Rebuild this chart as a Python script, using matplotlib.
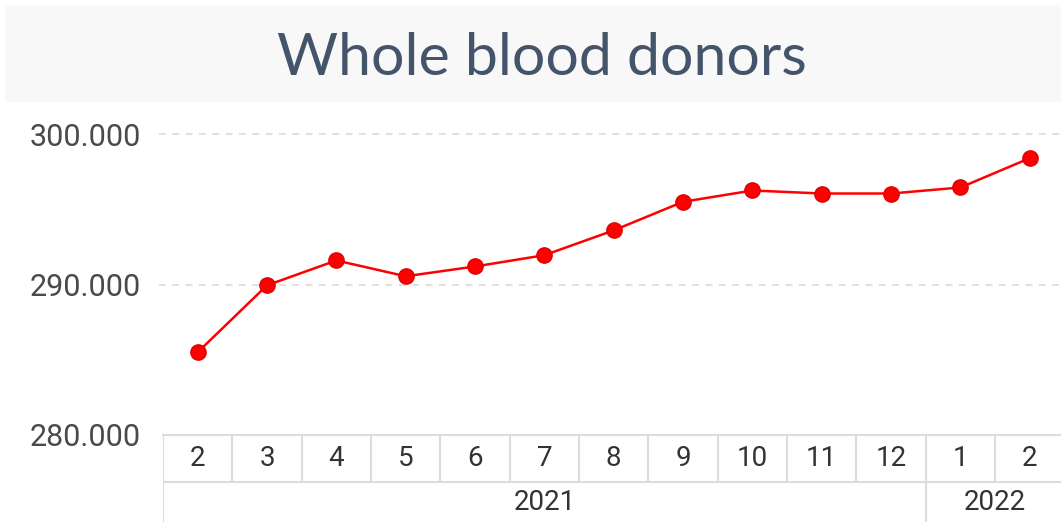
import matplotlib
matplotlib.use("Agg")
import matplotlib.pyplot as plt
from matplotlib.patches import Rectangle

title = "Whole blood donors"
months = ["2", "3", "4", "5", "6", "7", "8", "9", "10", "11", "12", "1", "2"]
years = ["2021", "2022"]
year_counts = [11, 2]
donors = [285500, 289950, 291600, 290550, 291200, 291950, 293600,
          295500, 296250, 296050, 296050, 296450, 298400]
yticks = [280000, 290000, 300000]
ytick_labels = ["280.000", "290.000", "300.000"]

W, H = 1061, 522
fig = plt.figure(figsize=(W / 100, H / 100), dpi=100)
fig.patch.set_facecolor("white")

# title band
fig.patches.append(Rectangle((5 / W, 1 - 102 / H), 1, 97 / H, transform=fig.transFigure,
                             facecolor="#f8f8f8", edgecolor="none", zorder=0))
fig.text(542 / W, 1 - 75 / H, title, ha="center", va="baseline", fontsize=42.5,
         family="Lato", color="#44546a")

# main axes
left = 163 / W
bottom = 87 / H
top = 110 / H
ax = fig.add_axes([left, bottom, 1 - left, 1 - top - bottom])
x = list(range(len(donors)))
ax.plot(x, donors, color="#ff0000", linewidth=1.8, marker="o", markersize=11,
        markerfacecolor="#ff0000", markeredgecolor="#e00000", markeredgewidth=1, zorder=3,
        clip_on=False)
ax.set_xlim(-0.5, 12.45)
ax.set_ylim(280000, 301600)
ax.set_yticks(yticks)
ax.set_yticklabels(ytick_labels)
ax.tick_params(axis="y", length=0, pad=16, labelsize=22, labelcolor="#4a4a4a")
for lab in ax.get_yticklabels():
    lab.set_family("Roboto")
ax.set_xticks([])
for s in ax.spines.values():
    s.set_visible(False)
for yv in yticks[1:]:
    ax.axhline(yv, color="#dadada", linewidth=1.2, linestyle=(0, (4, 4)), zorder=1, xmin=-0.004, clip_on=False)

# table axes below
tab = fig.add_axes([left, 0, 1 - left, bottom], sharex=ax)
tab.set_ylim(0, 2)
tab.axis("off")
lc = "#dcdcdc"
tab.axhline(2, color=lc, linewidth=1.5, clip_on=False)
tab.axhline(2 - 47 / 87 * 2, color=lc, linewidth=1.5)
ymid = 2 - 47 / 87 * 2
tab.vlines([-0.5], 0, 2, color=lc, linewidth=1.5)
tab.vlines([i + 0.5 for i in range(len(months) - 1)], ymid, 2, color=lc, linewidth=1.5)
for i, m in enumerate(months):
    tab.text(i, (ymid + 2) / 2, m, ha="center", va="center", fontsize=20,
             family="Roboto", color="#333333")
start = 0
for yr, n in zip(years, year_counts):
    end = start + n
    if start > 0:
        tab.vlines([start - 0.5], 0, ymid, color=lc, linewidth=1.5)
    tab.text((start + end - 1) / 2, ymid / 2, yr, ha="center", va="center", fontsize=20,
             family="Roboto", color="#333333")
    start = end

fig.savefig("out.png", dpi=100)
